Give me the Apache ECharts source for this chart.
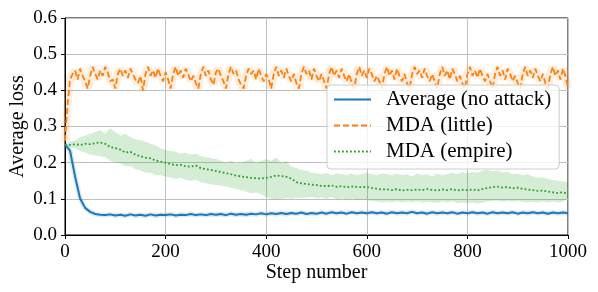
<!DOCTYPE html>
<html>
<head>
<meta charset="utf-8">
<script src="https://cdn.jsdelivr.net/npm/echarts@6/dist/echarts.min.js"></script>
<style>html,body{margin:0;padding:0;background:#fff}#c{width:598px;height:292px}</style>
</head>
<body>
<div id="c"></div>
<script>
// Sample steps
const steps10 = Array.from({length: 101}, (_, i) => i * 10);
const steps5 = Array.from({length: 201}, (_, i) => i * 5);

// Average (no attack), every 10 steps
const avgLoss = [
0.250,0.233,0.162,0.101,0.075,0.064,0.058,0.056,0.055,0.057,
0.054,0.056,0.053,0.057,0.054,0.056,0.053,0.057,0.054,0.056,
0.055,0.057,0.054,0.056,0.055,0.058,0.055,0.057,0.055,0.058,
0.056,0.058,0.055,0.059,0.056,0.058,0.056,0.059,0.057,0.060,
0.057,0.060,0.058,0.061,0.058,0.061,0.059,0.062,0.058,0.061,
0.059,0.062,0.059,0.063,0.060,0.062,0.059,0.063,0.060,0.062,
0.060,0.063,0.060,0.062,0.059,0.063,0.060,0.062,0.060,0.064,
0.060,0.062,0.059,0.063,0.060,0.062,0.060,0.063,0.059,0.062,
0.060,0.063,0.060,0.062,0.059,0.063,0.060,0.062,0.060,0.063,
0.059,0.062,0.060,0.063,0.060,0.062,0.059,0.062,0.060,0.062,
0.060];

// MDA (little), every 5 steps
const littleLoss = [
0.26,0.36,0.43,0.445,0.455,0.43,0.46,0.44,0.425,0.405,
0.44,0.465,0.445,0.43,0.455,0.44,0.465,0.45,0.425,0.43,
0.405,0.445,0.46,0.44,0.455,0.435,0.46,0.445,0.43,0.42,
0.44,0.40,0.445,0.465,0.44,0.455,0.435,0.46,0.44,0.425,
0.45,0.43,0.405,0.445,0.465,0.44,0.455,0.435,0.46,0.445,
0.425,0.44,0.42,0.405,0.445,0.465,0.44,0.455,0.43,0.415,
0.45,0.46,0.44,0.425,0.405,0.445,0.465,0.445,0.455,0.43,
0.415,0.405,0.44,0.46,0.445,0.455,0.43,0.46,0.44,0.425,
0.445,0.43,0.405,0.445,0.465,0.44,0.455,0.435,0.46,0.44,
0.425,0.445,0.42,0.405,0.445,0.465,0.445,0.455,0.43,0.46,
0.44,0.425,0.445,0.425,0.405,0.445,0.465,0.44,0.455,0.435,
0.46,0.44,0.425,0.445,0.42,0.405,0.445,0.465,0.44,0.455,
0.435,0.46,0.445,0.425,0.44,0.425,0.405,0.445,0.465,0.44,
0.455,0.43,0.46,0.44,0.425,0.445,0.42,0.405,0.445,0.465,
0.445,0.455,0.435,0.46,0.44,0.425,0.445,0.425,0.405,0.445,
0.465,0.44,0.455,0.43,0.46,0.445,0.425,0.44,0.42,0.405,
0.445,0.465,0.44,0.455,0.435,0.46,0.44,0.425,0.445,0.425,
0.405,0.445,0.465,0.44,0.455,0.43,0.46,0.445,0.425,0.44,
0.42,0.405,0.445,0.465,0.44,0.455,0.435,0.46,0.44,0.425,
0.445,0.42,0.405,0.445,0.465,0.44,0.455,0.43,0.46,0.44,
0.405];

// MDA (empire), every 10 steps: mean, lower and upper band
const empireLoss = [
0.250,0.249,0.251,0.249,0.252,0.251,0.254,0.256,0.252,0.243,
0.240,0.236,0.228,0.230,0.222,0.218,0.214,0.212,0.206,0.203,
0.200,0.196,0.193,0.194,0.190,0.189,0.192,0.185,0.182,0.180,
0.177,0.174,0.171,0.168,0.164,0.162,0.160,0.158,0.157,0.156,
0.158,0.161,0.165,0.163,0.161,0.156,0.146,0.143,0.141,0.139,
0.138,0.136,0.135,0.137,0.133,0.135,0.132,0.134,0.133,0.132,
0.133,0.130,0.128,0.126,0.126,0.124,0.127,0.123,0.125,0.124,
0.126,0.124,0.127,0.125,0.123,0.126,0.124,0.127,0.123,0.125,
0.124,0.126,0.123,0.127,0.130,0.132,0.134,0.131,0.133,0.129,
0.131,0.127,0.126,0.124,0.122,0.123,0.120,0.118,0.116,0.118,
0.114];
const empireHigh = [
0.252,0.258,0.262,0.270,0.275,0.280,0.285,0.290,0.280,0.295,
0.285,0.275,0.280,0.270,0.265,0.262,0.258,0.252,0.248,0.240,
0.235,0.232,0.230,0.225,0.228,0.222,0.225,0.218,0.215,0.213,
0.210,0.205,0.200,0.205,0.198,0.200,0.205,0.210,0.200,0.205,
0.210,0.205,0.215,0.200,0.205,0.190,0.185,0.180,0.178,0.172,
0.170,0.168,0.172,0.165,0.170,0.168,0.165,0.170,0.165,0.168,
0.172,0.168,0.165,0.170,0.168,0.165,0.170,0.165,0.168,0.162,
0.170,0.165,0.168,0.162,0.170,0.165,0.168,0.172,0.168,0.175,
0.170,0.175,0.172,0.178,0.180,0.176,0.178,0.172,0.175,0.168,
0.170,0.165,0.168,0.162,0.158,0.160,0.155,0.152,0.150,0.148,
0.145];
const empireLow = [
0.248,0.242,0.240,0.232,0.228,0.222,0.220,0.218,0.215,0.205,
0.200,0.198,0.190,0.190,0.182,0.178,0.172,0.172,0.165,0.165,
0.162,0.158,0.155,0.158,0.152,0.150,0.152,0.146,0.143,0.140,
0.138,0.136,0.134,0.130,0.128,0.124,0.120,0.115,0.118,0.112,
0.105,0.100,0.098,0.100,0.102,0.100,0.104,0.102,0.104,0.105,
0.102,0.104,0.100,0.105,0.098,0.100,0.098,0.100,0.097,0.099,
0.096,0.094,0.092,0.090,0.092,0.090,0.093,0.090,0.092,0.090,
0.093,0.090,0.092,0.090,0.089,0.092,0.090,0.093,0.088,0.090,
0.088,0.090,0.087,0.090,0.092,0.094,0.095,0.092,0.094,0.092,
0.094,0.092,0.090,0.092,0.090,0.092,0.090,0.092,0.090,0.092,
0.100];

const xTicks = {min: 0, max: 1000, interval: 200};
const yTicks = {min: 0, max: 0.6, interval: 0.1};

const FONT = 'Liberation Serif';
const pairs = (xs, ys) => xs.map((x, i) => [x, ys[i]]);

// band polygon drawn through the axes' own coordinate mapping
function bandRenderer(xs, lo, hi, color) {
  return function (params, api) {
    const pts = [];
    for (let i = 0; i < xs.length; i++) pts.push(api.coord([xs[i], hi[i]]));
    for (let i = xs.length - 1; i >= 0; i--) pts.push(api.coord([xs[i], lo[i]]));
    return {type: 'polygon', shape: {points: pts}, style: {fill: color, stroke: null}, silent: true};
  };
}

const chart = echarts.init(document.getElementById('c'), null, {renderer: 'canvas'});
chart.setOption({
  animation: false,
  backgroundColor: '#fff',
  grid: {left: 65, right: 30, top: 18, bottom: 57, outerBoundsMode: 'none', containLabel: false,
         show: true, borderColor: '#000', borderWidth: 1, backgroundColor: 'transparent'},
  xAxis: {
    type: 'value', min: xTicks.min, max: xTicks.max, interval: xTicks.interval,
    name: 'Step number', nameLocation: 'middle', nameGap: 38, nameMoveOverlap: false,
    nameTextStyle: {fontFamily: FONT, fontSize: 20, color: '#000', verticalAlign: 'middle'},
    axisLine: {lineStyle: {color: '#000', width: 1}},
    axisTick: {show: true, inside: false, length: 4, lineStyle: {color: '#000'}},
    axisLabel: {fontFamily: FONT, fontSize: 19, color: '#000', margin: 8, formatter: v => String(v)},
    splitLine: {show: true, lineStyle: {color: '#c0c0c0', width: 1}}
  },
  yAxis: {
    type: 'value', min: yTicks.min, max: yTicks.max, interval: yTicks.interval,
    name: 'Average loss', nameLocation: 'middle', nameGap: 47, nameMoveOverlap: false,
    nameTextStyle: {fontFamily: FONT, fontSize: 20, color: '#000', verticalAlign: 'middle'},
    axisLine: {show: true, lineStyle: {color: '#000', width: 1}},
    axisTick: {show: true, inside: false, length: 4, lineStyle: {color: '#000'}},
    axisLabel: {fontFamily: FONT, fontSize: 19, color: '#000', margin: 8, formatter: v => v.toFixed(1)},
    splitLine: {show: true, lineStyle: {color: '#c0c0c0', width: 1}}
  },
  legend: {
    data: ['Average (no attack)', 'MDA (little)', 'MDA (empire)'],
    orient: 'vertical', left: 327, top: 85,
    itemWidth: 37, itemHeight: 12, itemGap: 5,
    padding: [4, 8, 7, 6],
    itemStyle: {opacity: 0},
    backgroundColor: 'rgba(255,255,255,0.8)', borderColor: '#cccccc', borderWidth: 1, borderRadius: 4,
    textStyle: {fontFamily: FONT, fontSize: 21, color: '#000', padding: [0, 0, 0, 10]}
  },
  series: [
    {name: 'avgHalo', type: 'line', data: pairs(steps10, avgLoss), symbol: 'none', silent: true,
     lineStyle: {color: '#1f77b4', width: 5, opacity: 0.15}, z: 2},
    {name: 'Average (no attack)', type: 'line', data: pairs(steps10, avgLoss), symbol: 'none',
     lineStyle: {color: '#1f77b4', width: 2}, itemStyle: {color: '#1f77b4'}, z: 3},
    {name: 'littleHalo', type: 'line', data: pairs(steps5, littleLoss), symbol: 'none', silent: true,
     lineStyle: {color: '#ff7f0e', width: 8, opacity: 0.14}, z: 2},
    {name: 'MDA (little)', type: 'line', data: pairs(steps5, littleLoss), symbol: 'none',
     lineStyle: {color: '#ff7f0e', width: 1.8, type: [6, 3]}, itemStyle: {color: '#ff7f0e'}, z: 3},
    {name: 'empireBand', type: 'custom', data: [[0, 0]], silent: true, z: 2,
     renderItem: bandRenderer(steps10, empireLow, empireHigh, 'rgba(44,160,44,0.2)')},
    {name: 'MDA (empire)', type: 'line', data: pairs(steps10, empireLoss), symbol: 'none',
     lineStyle: {color: '#2ca02c', width: 1.8, type: [1.8, 2.2]}, itemStyle: {color: '#2ca02c'}, z: 4}
  ]
});
</script>
</body>
</html>
